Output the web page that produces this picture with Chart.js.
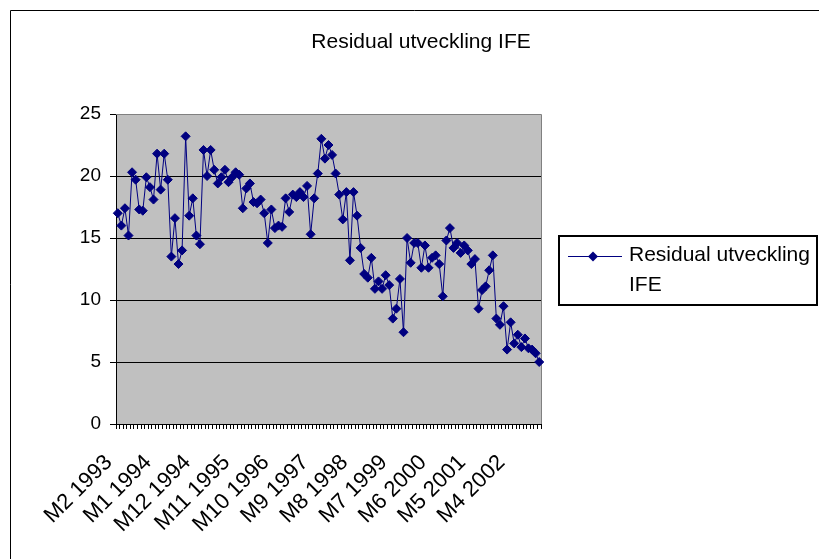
<!DOCTYPE html>
<html>
<head>
<meta charset="utf-8">
<script src="https://cdn.jsdelivr.net/npm/chart.js@4.4.1/dist/chart.umd.min.js"></script>
<style>
  html, body { margin: 0; padding: 0; background: #ffffff; }
  #wrap { width: 819px; height: 559px; position: relative; }
</style>
</head>
<body>
<div id="wrap"><canvas id="chart" width="819" height="559"></canvas></div>
<script>
// Monthly series, M2 1993 – M12 2002
const startMonth = 2;
const startYear = 1993;
const monthCount = 119;
const labelEvery = 11;

const seriesName = 'Residual utveckling IFE';
const chartTitle = 'Residual utveckling IFE';

const residual = [
  17.0, 16.0, 17.4, 15.2, 20.3, 19.7, 17.3, 17.2, 19.9, 19.1,
  18.1, 21.8, 18.9, 21.8, 19.7, 13.5, 16.6, 12.9, 14.0, 23.2,
  16.8, 18.2, 15.2, 14.5, 22.1, 20.0, 22.1, 20.5, 19.4, 19.9,
  20.5, 19.5, 19.9, 20.3, 20.1, 17.4, 19.0, 19.4, 17.9, 17.8,
  18.1, 17.0, 14.6, 17.3, 15.8, 16.0, 15.9, 18.2, 17.1, 18.5,
  18.3, 18.7, 18.3, 19.2, 15.3, 18.2, 20.2, 23.0, 21.4, 22.5,
  21.7, 20.2, 18.5, 16.5, 18.7, 13.2, 18.7, 16.8, 14.2, 12.1,
  11.8, 13.4, 10.9, 11.5, 10.9, 12.0, 11.2, 8.5, 9.3, 11.7,
  7.4, 15.0, 13.0, 14.6, 14.6, 12.6, 14.4, 12.6, 13.4, 13.6,
  12.9, 10.3, 14.8, 15.8, 14.2, 14.6, 13.8, 14.4, 14.0, 12.9,
  13.3, 9.3, 10.8, 11.1, 12.4, 13.6, 8.5, 8.0, 9.5, 6.0,
  8.2, 6.5, 7.2, 6.2, 6.9, 6.1, 6.0, 5.7, 5.0
];

const yTicks = [0, 5, 10, 15, 20, 25];

// Category labels "M<month> <year>"
const categories = [];
for (let i = 0; i < monthCount; i++) {
  const m0 = (startMonth - 1) + i;
  categories.push('M' + ((m0 % 12) + 1) + ' ' + (startYear + Math.floor(m0 / 12)));
}

const FONT = "'Liberation Sans', Arial, sans-serif";
const NAVY = '#000080';

// Grey plot background, outer frame, plot border, title and boxed legend
const framePlugin = {
  id: 'frame',
  beforeDraw(chart) {
    const { ctx, chartArea: a } = chart;
    ctx.save();
    ctx.fillStyle = '#ffffff';
    ctx.fillRect(0, 0, chart.width, chart.height);
    ctx.fillStyle = '#c0c0c0';
    ctx.fillRect(a.left, a.top, a.right - a.left, a.bottom - a.top);
    ctx.strokeStyle = '#000000';
    ctx.lineWidth = 1;
    ctx.beginPath();
    ctx.moveTo(10.5, chart.height);
    ctx.lineTo(10.5, 10.5);
    ctx.lineTo(chart.width, 10.5);
    ctx.stroke();
    ctx.restore();
  },
  beforeDatasetsDraw(chart) {
    const { ctx, chartArea: a } = chart;
    ctx.save();
    ctx.strokeStyle = '#808080';
    ctx.lineWidth = 1;
    ctx.beginPath();
    ctx.moveTo(a.left, a.top + 0.5);
    ctx.lineTo(a.right + 0.5, a.top + 0.5);
    ctx.lineTo(a.right + 0.5, a.bottom);
    ctx.stroke();
    ctx.restore();
  },
  afterDraw(chart) {
    const { ctx } = chart;
    ctx.save();
    ctx.fillStyle = '#000000';
    ctx.font = '21px ' + FONT;
    ctx.textAlign = 'center';
    ctx.textBaseline = 'middle';
    ctx.fillText(chartTitle, 421, 42);

    const ds = chart.data.datasets[0];
    ctx.strokeStyle = '#000000';
    ctx.lineWidth = 2;
    ctx.strokeRect(559, 236, 258, 69);
    ctx.strokeStyle = ds.borderColor;
    ctx.lineWidth = 1;
    ctx.beginPath();
    ctx.moveTo(568, 256.5);
    ctx.lineTo(622, 256.5);
    ctx.stroke();
    ctx.fillStyle = ds.pointBackgroundColor;
    ctx.beginPath();
    ctx.moveTo(593, 251.5);
    ctx.lineTo(598, 256.5);
    ctx.lineTo(593, 261.5);
    ctx.lineTo(588, 256.5);
    ctx.closePath();
    ctx.fill();

    ctx.fillStyle = '#000000';
    ctx.font = '21px ' + FONT;
    ctx.textAlign = 'left';
    ctx.textBaseline = 'middle';
    const words = ds.label.split(' ');
    ctx.fillText(words.slice(0, 2).join(' '), 629, 255);
    ctx.fillText(words.slice(2).join(' '), 629, 285);
    ctx.restore();
  }
};

new Chart(document.getElementById('chart'), {
  type: 'line',
  data: {
    labels: categories,
    datasets: [{
      label: seriesName,
      data: residual,
      borderColor: NAVY,
      backgroundColor: NAVY,
      pointBackgroundColor: NAVY,
      pointBorderColor: NAVY,
      borderWidth: 1,
      pointStyle: 'rectRot',
      pointRadius: 4.5,
      pointBorderWidth: 1,
      tension: 0,
      fill: false
    }]
  },
  options: {
    responsive: false,
    animation: false,
    events: [],
    layout: { padding: { top: 114, right: 278, bottom: 0, left: 0 } },
    plugins: {
      legend: { display: false },
      title: { display: false },
      tooltip: { enabled: false }
    },
    scales: {
      x: {
        type: 'category',
        offset: true,
        grid: {
          display: true,
          drawOnChartArea: false,
          offset: true,
          tickLength: 5,
          color: '#000000'
        },
        border: { color: '#000000', width: 1 },
        ticks: {
          autoSkip: false,
          maxRotation: 45,
          minRotation: 45,
          padding: 30,
          labelOffset: -9,
          color: '#000000',
          font: { family: FONT, size: 22, lineHeight: 0 },
          callback: (v, i) => (i % labelEvery === 0 ? categories[i] : '')
        },
        afterFit: (s) => { s.height = 135; }
      },
      y: {
        min: 0,
        max: 25,
        afterBuildTicks: (s) => { s.ticks = yTicks.map(v => ({ value: v })); },
        grid: {
          color: (c) => (c.tick && c.tick.value === 25 ? '#808080' : '#000000'),
          tickColor: '#000000',
          tickLength: 6,
          lineWidth: 1
        },
        border: { color: '#000000', width: 1 },
        ticks: {
          padding: 9,
          color: '#000000',
          font: { family: FONT, size: 19 }
        },
        afterFit: (s) => { s.width = 116; }
      }
    }
  },
  plugins: [framePlugin]
});
</script>
</body>
</html>
